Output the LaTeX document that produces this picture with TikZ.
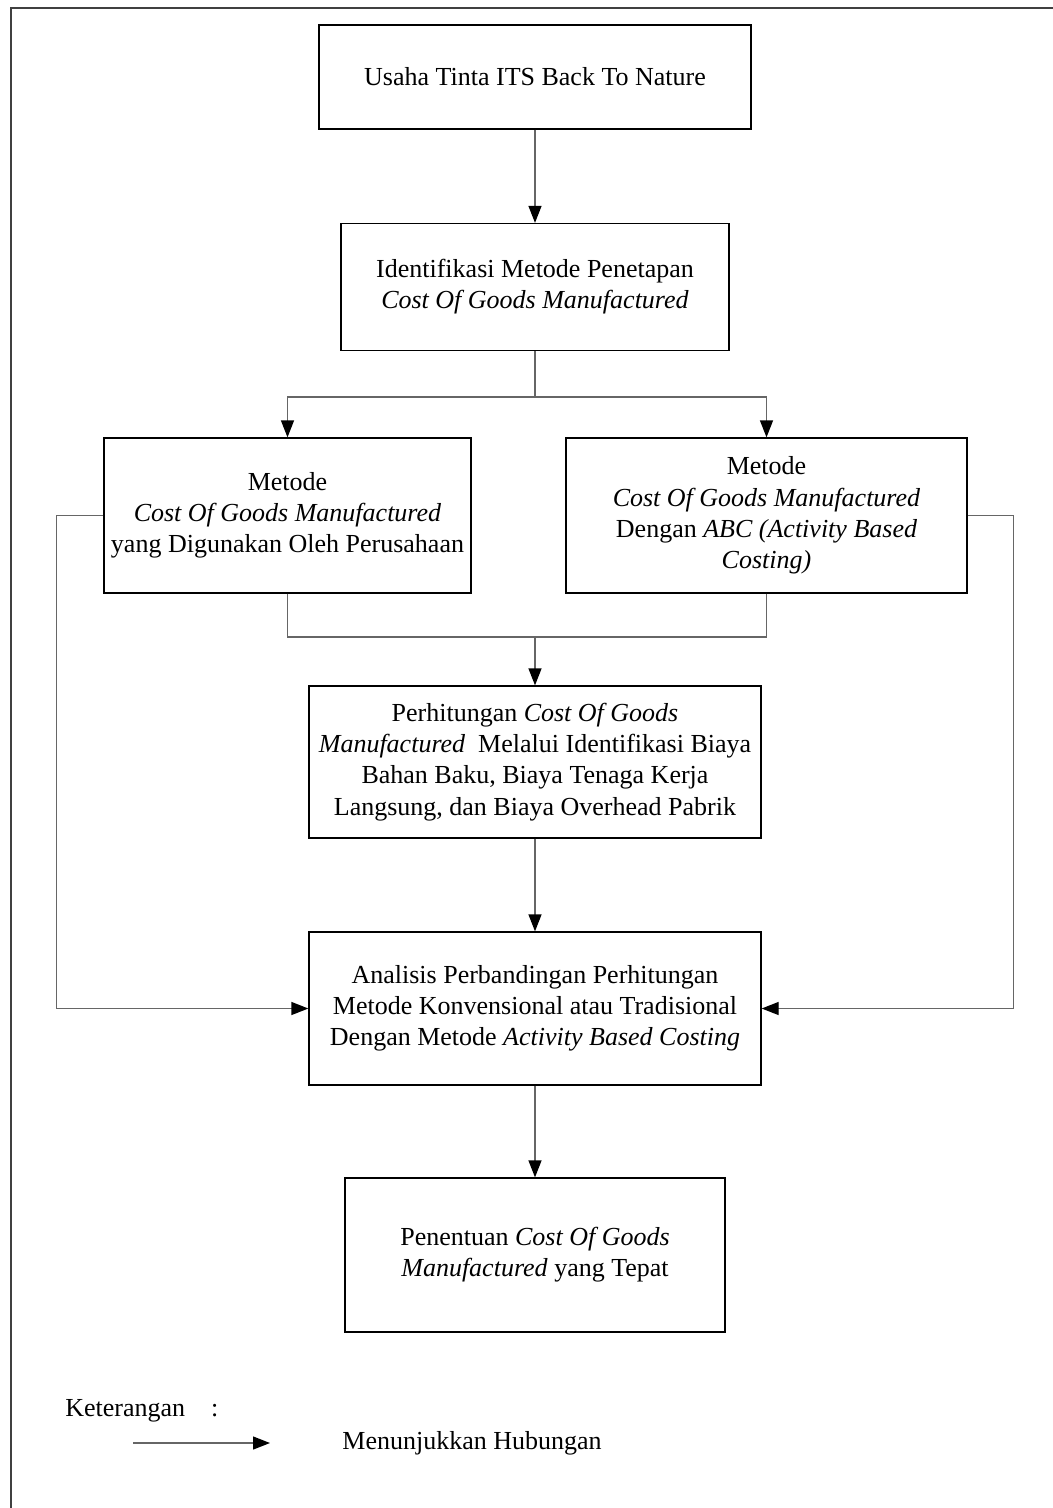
\documentclass[tikz,border=0pt]{standalone}
\usepackage{fontspec}
\setmainfont{Liberation Serif}
\usetikzlibrary{arrows.meta}

\begin{document}
\begin{tikzpicture}[x=0.5pt,y=-0.5pt,
    every node/.style={font=\fontsize{13}{15.6}\selectfont},
    box/.style={draw=black,line width=0.65pt,align=center,inner sep=0pt},
    link/.style={draw=black!60,line width=0.65pt},
    tip/.style={-{Triangle[length=8.5pt,width=6.5pt,black]}}]

% Fix the size of the page
\def\px{0.5pt}
\useasboundingbox (0,0) rectangle (1053,1508);

% Draw the outer frame
\draw[black!75,line width=1pt] (11,1520) -- (11,8) -- (1065,8);

% Boxes of the flow
\node[box,minimum width=432*\px,minimum height=104*\px] (usaha) at (535,77)
  {Usaha Tinta ITS Back To Nature};
\node[box,minimum width=388*\px,minimum height=127*\px] (ident) at (535,287)
  {Identifikasi Metode Penetapan\\ \textit{Cost Of Goods Manufactured}};
\node[box,minimum width=367*\px,minimum height=155*\px] (metkiri) at (287.5,515.5)
  {Metode\\ \textit{Cost Of Goods Manufactured}\\ yang Digunakan Oleh Perusahaan};
\node[box,minimum width=401*\px,minimum height=155*\px] (metkanan) at (766.5,515.5)
  {Metode\\ \textit{Cost Of Goods Manufactured}\\ Dengan \textit{ABC (Activity Based}\\ \textit{Costing)}};
\node[box,minimum width=452*\px,minimum height=152*\px] (hitung) at (535,762)
  {Perhitungan \textit{Cost Of Goods}\\ \textit{Manufactured}\ \ Melalui Identifikasi Biaya\\ Bahan Baku, Biaya Tenaga Kerja\\ Langsung, dan Biaya Overhead Pabrik};
\node[box,minimum width=452*\px,minimum height=153*\px] (analisis) at (535,1008.5)
  {Analisis Perbandingan Perhitungan\\ Metode Konvensional atau Tradisional\\ Dengan Metode \textit{Activity Based Costing}};
\node[box,minimum width=380*\px,minimum height=154*\px] (tepat) at (535,1255)
  {Penentuan \textit{Cost Of Goods}\\ \textit{Manufactured} yang Tepat};

% Branch and join points
\coordinate (fork) at (535,397);
\coordinate (join) at (535,637);

% Draw the connectors
\draw[link,tip] (usaha) -- (ident);
\draw[link] (ident) -- (fork);
\draw[link,tip] (fork) -| (metkiri);
\draw[link,tip] (fork) -| (metkanan);
\draw[link] (metkiri.south) |- (join);
\draw[link] (metkanan.south) |- (join);
\draw[link,tip] (join) -- (hitung);
\draw[link,tip] (hitung) -- (analisis);
\draw[link,tip] (metkiri.west) -- ++(-47,0) |- (analisis.west);
\draw[link,tip] (metkanan.east) -- ++(46,0) |- (analisis.east);
\draw[link,tip] (analisis) -- (tepat);

% Legend
\node[anchor=west,inner sep=0pt] (ket) at (65,1411) {Keterangan\quad :};
\coordinate (lgA) at (133,1443);
\coordinate (lgB) at (270,1443);
\draw[link,tip] (lgA) -- (lgB);
\node[anchor=west,inner sep=0pt] (hub) at (342,1443) {Menunjukkan Hubungan};

\end{tikzpicture}
\end{document}
